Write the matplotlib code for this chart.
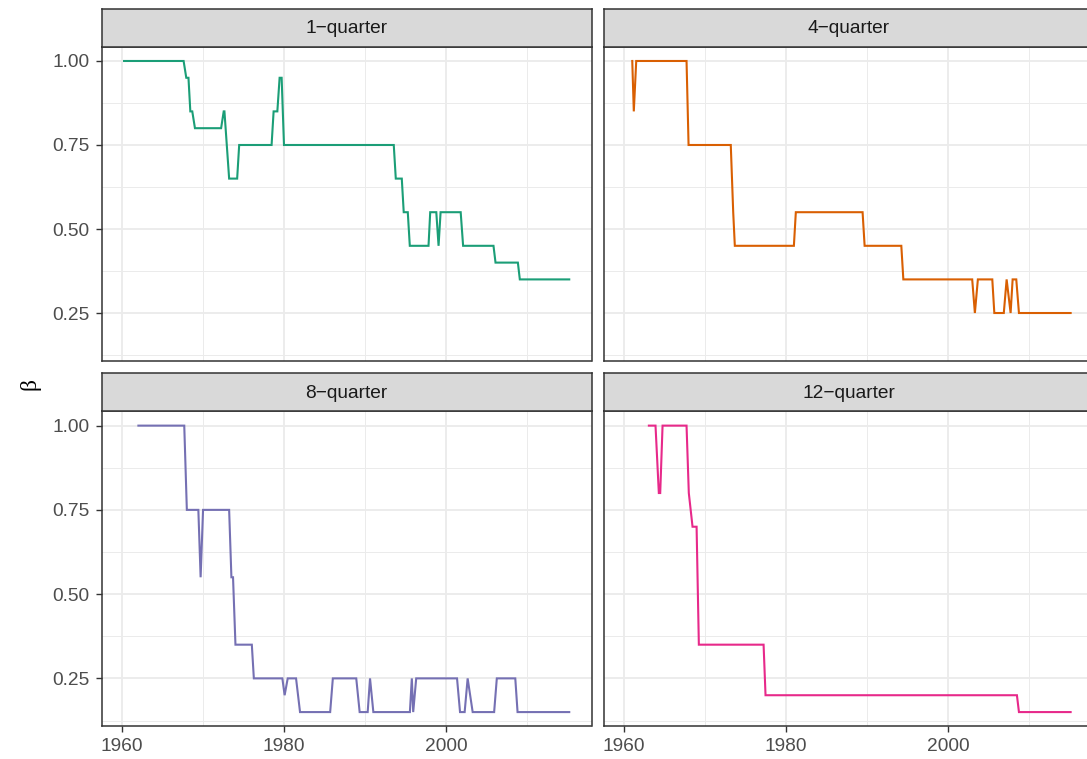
import matplotlib
matplotlib.use("Agg")
import matplotlib.pyplot as plt
from matplotlib.ticker import FixedLocator

# ---------------- data ----------------
panel_titles = ["1\u2212quarter", "4\u2212quarter", "8\u2212quarter", "12\u2212quarter"]
colors = ["#1B9E77", "#D95F02", "#7570B3", "#E7298A"]

years_1q = [1960.25, 1967.6, 1967.93, 1968.2, 1968.43, 1968.67, 1969.0, 1972.23, 1972.55,
            1972.64, 1973.22, 1974.21, 1974.46, 1978.46, 1978.71, 1979.17, 1979.45, 1979.7,
            1979.99, 1993.54, 1993.79, 1994.53, 1994.77, 1995.27, 1995.52, 1997.83, 1998.04,
            1998.79, 1999.07, 1999.32, 2001.8, 2002.1, 2005.85, 2006.1, 2008.86, 2009.1, 2015.2]
beta_1q = [1.0, 1.0, 0.95, 0.95, 0.85, 0.85, 0.80, 0.80, 0.85, 0.85, 0.65, 0.65, 0.75, 0.75,
           0.85, 0.85, 0.95, 0.95, 0.75, 0.75, 0.65, 0.65, 0.55, 0.55, 0.45, 0.45, 0.55, 0.55,
           0.45, 0.55, 0.55, 0.45, 0.45, 0.40, 0.40, 0.35, 0.35]

years_4q = [1961.04, 1961.23, 1961.53, 1967.74, 1967.99, 1973.2, 1973.5, 1973.7, 1980.99,
            1981.23, 1989.47, 1989.72, 1994.25, 1994.5, 2003.0, 2003.33, 2003.7, 2005.48,
            2005.73, 2006.9, 2007.25, 2007.74, 2007.99, 2008.44, 2008.77, 2015.15]
beta_4q = [1.0, 0.85, 1.0, 1.0, 0.75, 0.75, 0.55, 0.45, 0.45, 0.55, 0.55, 0.45, 0.45, 0.35,
           0.35, 0.25, 0.35, 0.35, 0.25, 0.25, 0.35, 0.25, 0.35, 0.35, 0.25, 0.25]

years_8q = [1962.02, 1967.68, 1968.0, 1969.42, 1969.7, 1970.0, 1973.22, 1973.5, 1973.7, 1974.0,
            1976.02, 1976.27, 1979.79, 1980.07, 1980.45, 1981.48, 1981.97, 1985.69, 1986.02,
            1988.91, 1989.33, 1990.32, 1990.61, 1991.02, 1995.53, 1995.77, 1995.94, 1996.31,
            2001.35, 2001.72, 2002.29, 2002.66, 2003.28, 2005.93, 2006.26, 2008.54, 2008.82,
            2015.2]
beta_8q = [1.0, 1.0, 0.75, 0.75, 0.55, 0.75, 0.75, 0.55, 0.55, 0.35, 0.35, 0.25, 0.25, 0.20,
           0.25, 0.25, 0.15, 0.15, 0.25, 0.25, 0.15, 0.15, 0.25, 0.15, 0.15, 0.25, 0.15, 0.25,
           0.25, 0.15, 0.15, 0.25, 0.15, 0.15, 0.25, 0.25, 0.15, 0.15]

years_12q = [1963.09, 1963.91, 1964.32, 1964.49, 1964.78, 1967.74, 1968.02, 1968.48, 1968.98,
             1969.26, 1977.25, 1977.49, 2008.52, 2008.77, 2015.15]
beta_12q = [1.0, 1.0, 0.80, 0.80, 1.0, 1.0, 0.80, 0.70, 0.70, 0.35, 0.35, 0.20, 0.20, 0.15, 0.15]

x_breaks = [1960, 1980, 2000]
x_minor = [1970, 1990, 2010]
y_breaks = [0.25, 0.50, 0.75, 1.00]
y_labels = ["0.25", "0.50", "0.75", "1.00"]
y_minor = [0.125, 0.375, 0.625, 0.875]
y_title = "\u03b2"

series = [(years_1q, beta_1q), (years_4q, beta_4q), (years_8q, beta_8q), (years_12q, beta_12q)]

# ---------------- layout ----------------
W, H = 1087, 759
fig = plt.figure(figsize=(W / 100, H / 100), dpi=100)
fig.patch.set_facecolor("white")

plt.rcParams["font.family"] = ["Liberation Sans", "DejaVu Sans"]

def rect(l, t, r, b):
    return [l / W, 1 - b / H, (r - l) / W, (b - t) / H]

col_lr = [(101.8, 591.5), (603.6, 1093.3)]
row_tb = [(46.7, 360.9), (411.3, 726.4)]
strip_h = 38.0

all_x = [v for s in series for v in s[0]]
all_y = [v for s in series for v in s[1]]
xr = max(all_x) - min(all_x)
yr = max(all_y) - min(all_y)
xlim = (min(all_x) - 0.05 * xr, max(all_x) + 0.05 * xr)
ylim = (min(all_y) - 0.05 * yr, max(all_y) + 0.05 * yr)

border = "#333333"
grid_c = "#EBEBEB"
for i, ((xs, ys), title, c) in enumerate(zip(series, panel_titles, colors)):
    r, cc = divmod(i, 2)
    l, rr = col_lr[cc]
    t, b = row_tb[r]
    ax = fig.add_axes(rect(l, t, rr, b))
    ax.set_xlim(*xlim)
    ax.set_ylim(*ylim)
    ax.set_axisbelow(True)
    ax.xaxis.set_major_locator(FixedLocator(x_breaks))
    ax.xaxis.set_minor_locator(FixedLocator(x_minor))
    ax.yaxis.set_major_locator(FixedLocator(y_breaks))
    ax.yaxis.set_minor_locator(FixedLocator(y_minor))
    ax.grid(which="major", color=grid_c, lw=1.3)
    ax.grid(which="minor", color=grid_c, lw=0.7)
    ax.plot(xs, ys, color=c, lw=1.5, solid_joinstyle="miter", zorder=3)
    for sp in ax.spines.values():
        sp.set_color(border)
        sp.set_linewidth(1.1)
    ax.tick_params(which="minor", length=0)
    ax.tick_params(which="major", length=4.6, width=1.0, color=border,
                   labelcolor="#4D4D4D", labelsize=13.8, pad=4.0)
    if r == 1:
        ax.set_xticklabels([str(v) for v in x_breaks])
    else:
        ax.tick_params(axis="x", which="major", length=0, labelbottom=False)
    if cc == 0:
        ax.set_yticklabels(y_labels)
    else:
        ax.tick_params(axis="y", which="major", length=0, labelleft=False)

    sax = fig.add_axes(rect(l, t - strip_h, rr, t))
    sax.set_facecolor("#D9D9D9")
    sax.set_xticks([])
    sax.set_yticks([])
    for sp in sax.spines.values():
        sp.set_color(border)
        sp.set_linewidth(1.1)
    # centre strip text on the visible panel width (matches ggplot placement)
    sax.text(0.5, 0.47, title, transform=sax.transAxes, ha="center", va="center",
             fontsize=13.8, color="#1A1A1A")

fig.text(30 / W, 1 - 384 / H, y_title, rotation=90, ha="center", va="center",
         fontsize=17, family=["Liberation Serif", "DejaVu Serif"], color="black")

fig.savefig("out.png", dpi=100)
